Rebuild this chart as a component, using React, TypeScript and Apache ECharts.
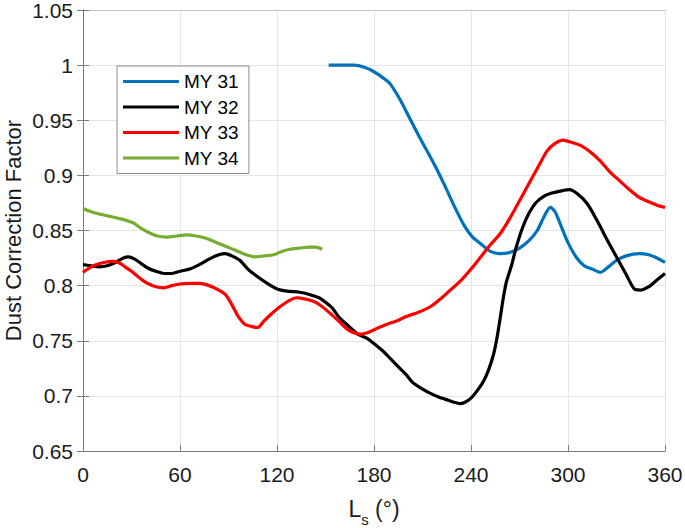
import React, { useEffect, useRef } from "react";
import * as echarts from "echarts";

const seriesNames = ["MY 31", "MY 32", "MY 33", "MY 34"];
const seriesColors = ["#0072BD", "#000000", "#FF0000", "#77AC30"];

const xTicks = [0, 60, 120, 180, 240, 300, 360];
const yTicks = [0.65, 0.7, 0.75, 0.8, 0.85, 0.9, 0.95, 1, 1.05];

const ls31 = [152, 160, 168, 174, 180, 186, 190, 196, 202, 208, 214, 218, 224, 230, 236, 241, 246, 252, 258, 264, 270, 276, 281, 285, 289, 292, 296, 300, 305, 310, 315, 320, 325, 330, 336, 344, 350, 355, 360];
const my31 = [1.0, 1.0, 1.0, 0.998, 0.994, 0.988, 0.983, 0.969, 0.952, 0.935, 0.919, 0.908, 0.89, 0.871, 0.854, 0.844, 0.838, 0.831, 0.829, 0.83, 0.834, 0.841, 0.85, 0.862, 0.871, 0.867, 0.853, 0.839, 0.826, 0.818, 0.815, 0.812, 0.817, 0.823, 0.827, 0.829, 0.828, 0.825, 0.821];

const ls32 = [0, 5, 10, 15, 20, 25, 28, 32, 36, 40, 45, 50, 55, 60, 66, 72, 78, 84, 88, 92, 97, 102, 108, 114, 120, 126, 134, 140, 146, 150, 154, 158, 163, 170, 176, 182, 186, 190, 196, 200, 204, 208, 214, 220, 226, 230, 233, 236, 240, 244, 248, 251, 254, 256, 258, 260, 262, 265, 268, 272, 276, 280, 285, 290, 296, 301, 306, 312, 318, 324, 330, 336, 341, 345, 350, 355, 360];
const my32 = [0.819, 0.818, 0.817, 0.818, 0.821, 0.825, 0.826, 0.824, 0.82, 0.816, 0.813, 0.811, 0.811, 0.813, 0.815, 0.819, 0.824, 0.828, 0.829, 0.827, 0.823, 0.815, 0.808, 0.802, 0.797, 0.795, 0.794, 0.792, 0.789, 0.785, 0.78, 0.772, 0.765, 0.756, 0.752, 0.745, 0.74, 0.734, 0.725, 0.719, 0.712, 0.708, 0.703, 0.699, 0.696, 0.694, 0.693, 0.694, 0.698, 0.705, 0.714, 0.724, 0.738, 0.752, 0.77, 0.789, 0.804, 0.818, 0.835, 0.853, 0.866, 0.875, 0.881, 0.884, 0.886, 0.887, 0.883, 0.874, 0.859, 0.842, 0.826, 0.81, 0.797, 0.796, 0.799, 0.805, 0.811];

const ls33 = [0, 4, 8, 13, 18, 22, 26, 30, 35, 40, 45, 50, 55, 60, 66, 72, 78, 84, 88, 92, 96, 100, 104, 108, 112, 117, 122, 127, 132, 137, 142, 147, 152, 158, 163, 168, 172, 177, 183, 188, 194, 200, 206, 211, 216, 222, 228, 234, 240, 246, 252, 258, 264, 270, 276, 282, 287, 292, 297, 302, 308, 314, 320, 326, 332, 338, 344, 350, 355, 360];
const my33 = [0.812, 0.816, 0.819, 0.821, 0.822, 0.821, 0.817, 0.813, 0.807, 0.802, 0.799, 0.798, 0.8, 0.8015, 0.802, 0.802, 0.8, 0.796, 0.792, 0.783, 0.772, 0.765, 0.763, 0.762, 0.768, 0.775, 0.781, 0.786, 0.789, 0.788, 0.786, 0.782, 0.776, 0.768, 0.761, 0.757, 0.756, 0.758, 0.762, 0.765, 0.768, 0.772, 0.775, 0.778, 0.782, 0.789, 0.797, 0.805, 0.815, 0.826, 0.837, 0.847, 0.861, 0.877, 0.893, 0.909, 0.922, 0.929, 0.932, 0.93, 0.927, 0.921, 0.913, 0.903, 0.895, 0.887, 0.88, 0.876, 0.873, 0.871];

const ls34 = [0, 5, 10, 16, 22, 27, 31, 36, 41, 46, 52, 58, 64, 70, 76, 81, 86, 91, 96, 101, 106, 112, 118, 123, 128, 134, 140, 144, 148];
const my34 = [0.87, 0.867, 0.865, 0.863, 0.861, 0.859, 0.857, 0.852, 0.848, 0.845, 0.844, 0.845, 0.846, 0.845, 0.843, 0.84, 0.837, 0.834, 0.831, 0.828, 0.826, 0.827, 0.828, 0.831, 0.833, 0.834, 0.835, 0.835, 0.833];

const allLs = [ls31, ls32, ls33, ls34];
const allVals = [my31, my32, my33, my34];

const FONT = "'Liberation Sans', Arial, Helvetica, sans-serif";
const AXIS_COLOR = "#7a7a7a";

export default function App() {
  const ref = useRef<HTMLDivElement>(null);

  useEffect(() => {
    if (!ref.current) return;
    const chart = echarts.init(ref.current, undefined, { renderer: "svg" });
    const series = seriesNames.map((name, i) => ({
      name,
      type: "line",
      data: allLs[i].map((x, j) => [x, allVals[i][j]]),
      symbol: "none",
      showSymbol: false,
      smooth: 0.25,
      lineStyle: { width: 3.2, color: seriesColors[i] },
      itemStyle: { color: seriesColors[i] },
      xAxisIndex: 0,
      yAxisIndex: 0,
      z: 3,
    }));

    chart.setOption({
      animation: false,
      backgroundColor: "#ffffff",
      textStyle: { fontFamily: FONT },
      grid: { left: 83, right: 20, top: 10, bottom: 77, containLabel: false, outerBoundsMode: "none" },
      legend: {
        data: seriesNames,
        orient: "vertical",
        left: 117,
        top: 66,
        padding: [6, 10, 6, 6],
        icon: "rect",
        itemWidth: 56,
        itemHeight: 3,
        itemGap: 6.5,
        borderColor: "#8c8c8c",
        borderWidth: 1,
        backgroundColor: "#ffffff",
        textStyle: { fontSize: 19, lineHeight: 19, color: "#000", fontFamily: FONT },
      },
      xAxis: [
        {
          type: "value",
          min: xTicks[0],
          max: xTicks[xTicks.length - 1],
          interval: xTicks[1] - xTicks[0],
          position: "bottom",
          axisLine: { show: true, lineStyle: { color: AXIS_COLOR, width: 1 } },
          axisTick: { show: true, inside: true, length: 6, lineStyle: { color: AXIS_COLOR } },
          axisLabel: { fontSize: 21, lineHeight: 21, color: "#1a1a1a", margin: 13, fontFamily: FONT },
          splitLine: { show: true, lineStyle: { color: "#e4e4e4", width: 1 } },
          name: "{a|L}{s|s}{a| (°)}",
          nameLocation: "middle",
          nameGap: 46,
          nameMoveOverlap: false,
          nameTextStyle: {
            color: "#1a1a1a",
            fontFamily: FONT,
            rich: {
              a: { fontSize: 23, lineHeight: 23, verticalAlign: "top", color: "#1a1a1a", fontFamily: FONT },
              s: { fontSize: 15, lineHeight: 30, verticalAlign: "bottom", color: "#1a1a1a", fontFamily: FONT },
            },
          },
        },
        {
          type: "value",
          min: xTicks[0],
          max: xTicks[xTicks.length - 1],
          interval: xTicks[1] - xTicks[0],
          position: "top",
          axisLine: { show: true, lineStyle: { color: "#c4c4c4", width: 1 } },
          axisTick: { show: false },
          axisLabel: { show: false },
          splitLine: { show: false },
        },
      ],
      yAxis: [
        {
          type: "value",
          min: yTicks[0],
          max: yTicks[yTicks.length - 1],
          interval: 0.05,
          position: "left",
          axisLine: { show: true, lineStyle: { color: AXIS_COLOR, width: 1 } },
          axisTick: { show: true, inside: true, length: 6, lineStyle: { color: AXIS_COLOR } },
          axisLabel: { fontSize: 21, lineHeight: 16, color: "#1a1a1a", margin: 10, fontFamily: FONT },
          splitLine: { show: true, lineStyle: { color: "#e4e4e4", width: 1 } },
          name: "Dust Correction Factor",
          nameLocation: "middle",
          nameGap: 60,
          nameMoveOverlap: false,
          nameTextStyle: { fontSize: 22, lineHeight: 20, color: "#1a1a1a", fontFamily: FONT },
        },
        {
          type: "value",
          min: yTicks[0],
          max: yTicks[yTicks.length - 1],
          interval: 0.05,
          position: "right",
          axisLine: { show: true, lineStyle: { color: AXIS_COLOR, width: 1 } },
          axisTick: { show: true, inside: true, length: 6, lineStyle: { color: AXIS_COLOR } },
          axisLabel: { show: false },
          splitLine: { show: false },
        },
      ],
      series,
    });
    return () => chart.dispose();
  }, []);

  return (
    <div
      ref={ref}
      style={{ position: "fixed", left: 0, top: 0, width: 685, height: 528, background: "#fff" }}
    />
  );
}
